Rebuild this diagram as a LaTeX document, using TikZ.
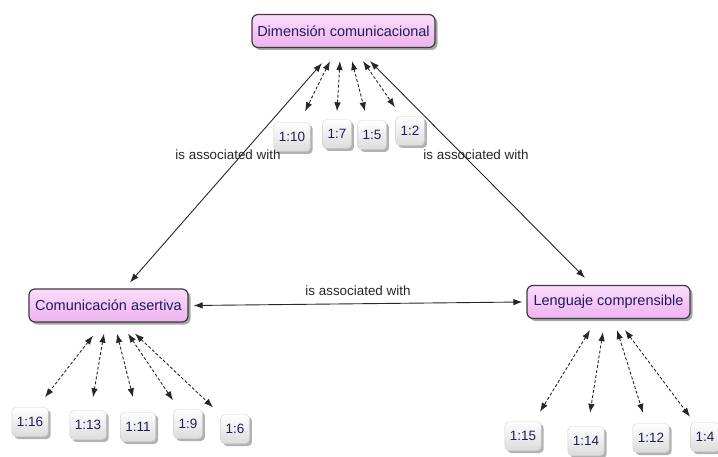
\documentclass[tikz,border=0pt]{standalone}
\usepackage{fontspec}
\setmainfont{Liberation Sans}
\usetikzlibrary{arrows.meta,shadows}
\definecolor{pinkT}{HTML}{FBDDFB}
\definecolor{pinkB}{HTML}{EFB2EF}
\definecolor{navy}{HTML}{1E1E5A}
\definecolor{boxline}{HTML}{3C3C3C}
\definecolor{greyB}{HTML}{DCDCDC}
\begin{document}
\begin{tikzpicture}[x=1pt,y=-1pt,
  mainbox/.style={draw=boxline, line width=1.2pt, rounded corners=6pt,
    top color=pinkT, bottom color=pinkB, text=navy,
    font=\fontsize{14.5}{16}\selectfont, minimum height=33pt, inner xsep=4pt,
    drop shadow={shadow xshift=2.5pt, shadow yshift=-2.5pt, fill=black, opacity=.35}},
  refbox/.style={draw=gray!35, line width=.4pt, rounded corners=4pt,
    top color=white, bottom color=greyB, text=navy,
    font=\fontsize{13.5}{15}\selectfont, minimum height=29pt, inner xsep=5pt,
    drop shadow={shadow xshift=2.5pt, shadow yshift=-2.5pt, fill=black, opacity=.3}},
  lbl/.style={font=\fontsize{13.4}{15}\selectfont, text=black!85, inner sep=0pt},
  link/.style={draw=black!85, line width=.9pt,
    {Latex[length=9pt,width=6.5pt]}-{Latex[length=9pt,width=6.5pt]}},
  dlink/.style={link, dash pattern=on 3pt off 2pt}]
\useasboundingbox (0,0) rectangle (718,457);

% labels
\node[lbl] (l1) at (228,155) {is associated with};
\node[lbl] (l2) at (476,155) {is associated with};
\node[lbl] (l3) at (358,291) {is associated with};

% main concepts
\node[mainbox, minimum width=183pt] (dim) at (343.5,31) {Dimensión comunicacional};
\node[mainbox, minimum width=159pt] (com) at (108.5,305.5) {Comunicación asertiva};
\node[mainbox, minimum width=163pt] (len) at (608.5,302) {Lenguaje comprensible};

% quotations
\node[refbox] (q10) at (292,137) {1:10};
\node[refbox] (q7)  at (337,134) {1:7};
\node[refbox] (q5)  at (372,135) {1:5};
\node[refbox] (q2)  at (410,131) {1:2};

\node[refbox] (q16) at (30,422) {1:16};
\node[refbox] (q13) at (88,425) {1:13};
\node[refbox] (q11) at (138,427) {1:11};
\node[refbox] (q9)  at (188,424) {1:9};
\node[refbox] (q6)  at (235,429) {1:6};

\node[refbox] (q15) at (523,436) {1:15};
\node[refbox] (q14) at (586,441) {1:14};
\node[refbox] (q12) at (651,438) {1:12};
\node[refbox] (q4)  at (705,437) {1:4};

% main links
\draw[link] ([shift={(-21.5,15)}]dim.south) -- ([shift={(21.5,-6)}]com.north);
\draw[link] ([shift={(26.5,13)}]dim.south) -- ([shift={(-23.5,-7)}]len.north);
\draw[link] ([shift={(5,0)}]com.east) -- ([shift={(-4,0)}]len.west);

% dimension quotations
\draw[dlink] ([shift={(-13.5,13)}]dim.south) -- ([shift={(13,-11)}]q10.north);
\draw[dlink] ([shift={(-3.5,13)}]dim.south) -- ([shift={(0,-8)}]q7.north);
\draw[dlink] ([shift={(8.5,13)}]dim.south) -- ([shift={(-7,-9)}]q5.north);
\draw[dlink] ([shift={(19.5,13)}]dim.south) -- ([shift={(-15,-9)}]q2.north);

% comunicacion quotations
\draw[dlink] ([shift={(-15.5,13)}]com.south) -- ([shift={(15,-10)}]q16.north);
\draw[dlink] ([shift={(-4.5,11)}]com.south) -- ([shift={(5,-13)}]q13.north);
\draw[dlink] ([shift={(8.5,11)}]com.south) -- ([shift={(-5,-15)}]q11.north);
\draw[dlink] ([shift={(19.5,11)}]com.south) -- ([shift={(-15,-9)}]q9.north);
\draw[dlink] ([shift={(26.5,11)}]com.south) -- ([shift={(-22,-7)}]q6.north);

% lenguaje quotations
\draw[dlink] ([shift={(-18.5,11)}]len.south) -- ([shift={(17,-9.5)}]q15.north);
\draw[dlink] ([shift={(-5.5,13)}]len.south) -- ([shift={(4,-13.5)}]q14.north);
\draw[dlink] ([shift={(8.5,11)}]len.south) -- ([shift={(-8,-10.5)}]q12.north);
\draw[dlink] ([shift={(16.5,11)}]len.south) -- ([shift={(-15,-5.5)}]q4.north);
\end{tikzpicture}
\end{document}
